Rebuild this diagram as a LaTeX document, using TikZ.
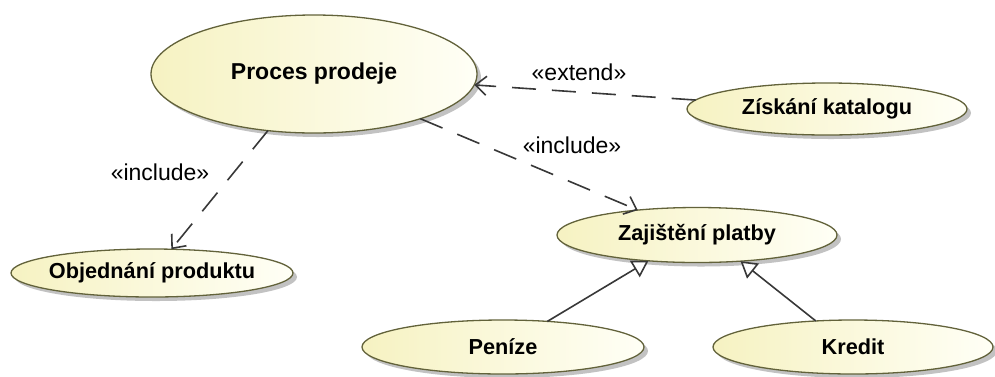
\documentclass[tikz,border=0pt]{standalone}
\usepackage{fontspec}
\setmainfont{Liberation Sans}
\usetikzlibrary{shapes.geometric,arrows.meta,shadows}
\definecolor{ucline}{HTML}{62623A}
\definecolor{ucleft}{HTML}{F6F2C2}
\definecolor{ucright}{HTML}{FFFFF6}
\definecolor{lnc}{HTML}{383838}
\newcommand{\uctext}[2][21.7]{\makebox[0pt][c]{\fontsize{#1}{#1}\selectfont\bfseries #2}}
\tikzset{
  uc/.style={ellipse, draw=ucline, line width=1.3pt, left color=ucleft, right color=ucright,
    inner sep=0pt, outer sep=0pt,
    drop shadow={shadow xshift=4pt, shadow yshift=-4pt, fill=black!40, opacity=0.6}},
  dep/.style={draw=lnc, line width=1.6pt, dash pattern=on 24pt off 16pt,
    -{Straight Barb[length=11pt,width=19pt,line width=1.6pt]}},
  gen/.style={draw=lnc, line width=1.6pt,
    -{Triangle[open,length=16pt,width=19pt,line width=1.6pt,fill=white]}},
  stereo/.style={inner sep=0pt, font=\fontsize{23}{23}\selectfont}
}
\begin{document}
\begin{tikzpicture}[x=1pt,y=-1pt]
\useasboundingbox (0,0) rectangle (995,376);
\node[uc, minimum width=326pt, minimum height=118pt] (proc) at (314,74) {\uctext[23]{Proces prodeje}};
\node[uc, minimum width=280pt, minimum height=52pt] (zisk) at (827,109) {\uctext{Získání katalogu}};
\node[uc, minimum width=282pt, minimum height=48pt] (obj) at (152,273) {\uctext{Objednání produktu}};
\node[uc, minimum width=280pt, minimum height=55pt] (zaj) at (697,235) {\uctext{Zajištění platby}};
\node[uc, minimum width=282pt, minimum height=54pt] (pen) at (503,347) {\uctext{Peníze}};
\node[uc, minimum width=280pt, minimum height=54pt] (kre) at (853,347) {\uctext{Kredit}};

\draw[dep] (zisk) -- (proc);
\draw[dep] (proc) -- (zaj);
\draw[dep] (proc) -- (obj);
\draw[gen] (pen.30) -- (zaj.208);
\draw[gen] (kre.145) -- (zaj.329);

\node[stereo] (lext) at (579,72) {«extend»};
\node[stereo] (linc2) at (572,145) {«include»};
\node[stereo] (linc1) at (160,172) {«include»};
\end{tikzpicture}
\end{document}
